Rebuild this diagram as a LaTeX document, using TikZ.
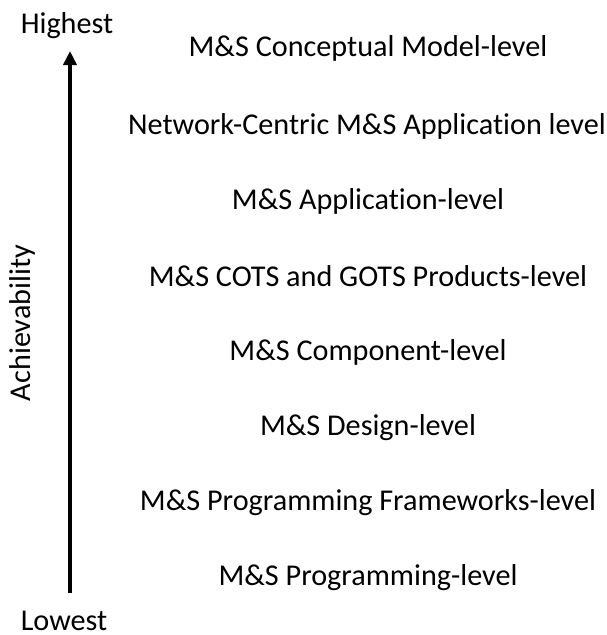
\documentclass[tikz,border=0pt]{standalone}
\usepackage{fontspec}
\setmainfont{Carlito}[Ligatures=NoCommon]
\usetikzlibrary{arrows.meta}
\begin{document}
\begin{tikzpicture}[x=1pt,y=-1pt,
  lvl/.style={font=\fontsize{30.2}{34}\selectfont, inner sep=0pt, anchor=center},
  endlbl/.style={font=\fontsize{30.2}{34}\selectfont, inner sep=0pt, anchor=center}]
\useasboundingbox (0,0) rectangle (606,635);
\node[endlbl] (hi) at (67,26) {Highest};
\node[endlbl] (lo) at (64,621) {Lowest};
\coordinate (top) at (70,51);
\coordinate (bot) at (70,593);
\draw[line width=4pt,-{Triangle[length=14pt,width=13pt]}] (bot) -- (top);
\node[endlbl, rotate=90] (ach) at (22,323) {Achievability};
\node[lvl] (l1) at (368,48) {M\&S Conceptual Model-level};
\node[lvl] (l2) at (367,126) {Network-Centric M\&S Application level};
\node[lvl] (l3) at (368,201) {M\&S Application-level};
\node[lvl] (l4) at (368,276) {M\&S COTS and GOTS Products-level};
\node[lvl] (l5) at (368,352) {M\&S Component-level};
\node[lvl] (l6) at (368,428) {M\&S Design-level};
\node[lvl] (l7) at (368,503) {M\&S Programming Frameworks-level};
\node[lvl] (l8) at (368,578) {M\&S Programming-level};
\end{tikzpicture}
\end{document}
